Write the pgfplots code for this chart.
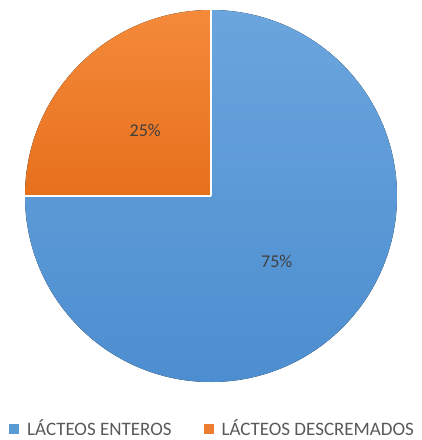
\documentclass[border=0pt]{standalone}
\usepackage{pgfplots}
\usepackage{pgfplotstable}
\pgfplotsset{compat=1.18}
\usetikzlibrary{calc}
\usepackage{fontspec}
\setmainfont{Carlito}
\definecolor{blueT}{HTML}{6AA5DD}
\definecolor{blueB}{HTML}{4D8ED0}
\definecolor{blueL}{HTML}{5B9BD5}
\definecolor{orT}{HTML}{F48A3A}
\definecolor{orB}{HTML}{E7701C}
\definecolor{orL}{HTML}{ED7D31}
\definecolor{lblgray}{HTML}{404040}
\definecolor{leggray}{HTML}{595959}
\pgfplotstableread{
label value
enteros 75
descremados 25
}\piedata
\begin{document}
\begin{tikzpicture}
\pgfplotstablegetelem{0}{value}\of\piedata \let\va\pgfplotsretval
\pgfplotstablegetelem{1}{value}\of\piedata \let\vb\pgfplotsretval
\pgfmathsetmacro{\tot}{\va+\vb}
\pgfmathsetmacro{\aEnd}{90-\va/\tot*360}
\pgfmathsetmacro{\aMid}{90-\va/\tot*180}
\pgfmathsetmacro{\bEnd}{\aEnd-\vb/\tot*360}
\pgfmathsetmacro{\bMid}{\aEnd-\vb/\tot*180}
\begin{axis}[
  x=186pt, y=186pt,
  xmin=-1.1344, xmax=1.1344,
  ymin=-1.3118, ymax=1.0538,
  hide axis, clip=false,
  legend columns=2,
  legend cell align=left,
  legend style={draw=none, fill=none, at={(axis cs:-1.086,-1.250)}, anchor=west,
    inner sep=0pt,
    font=\fontsize{19}{21}\selectfont\color{leggray},
    nodes={inner sep=0pt},
    /tikz/every odd column/.append style={column sep=8pt},
    /tikz/every even column/.append style={column sep=32pt}},
  legend image code/.code={\fill[#1, draw=none] (0pt,-5pt) rectangle (10pt,5pt);},
]
\addlegendimage{fill=blueL}
\addlegendentry{LÁCTEOS ENTEROS}
\addlegendimage{fill=orL}
\addlegendentry{LÁCTEOS DESCREMADOS}
\fill[top color=blueT, bottom color=blueB] (axis cs:0,0) -- ++(90:186pt) arc[start angle=90, end angle=\aEnd, radius=186pt] -- cycle;
\fill[top color=orT, bottom color=orB] (axis cs:0,0) -- ++(\aEnd:186pt) arc[start angle=\aEnd, end angle=\bEnd, radius=186pt] -- cycle;
\draw[white, line width=1.5pt] (axis cs:0,0) -- ++(90:186pt);
\draw[white, line width=1.5pt] (axis cs:0,0) -- ++(\aEnd:186pt);
\node[font=\fontsize{18}{20}\selectfont, text=lblgray] at ($(axis cs:0,0)+(\aMid:93pt)$) {\va\%};
\node[font=\fontsize{18}{20}\selectfont, text=lblgray] at ($(axis cs:0,0)+(\bMid:93pt)$) {\vb\%};
\end{axis}
\pgfresetboundingbox
\path (current axis.south west) rectangle (current axis.north east);
\end{tikzpicture}
\end{document}
